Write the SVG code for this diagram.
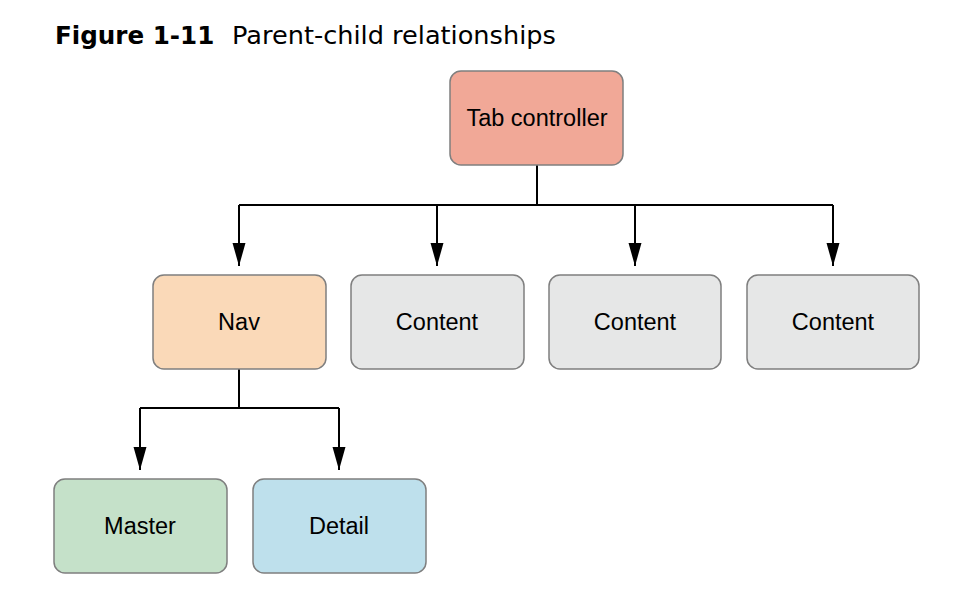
<svg xmlns="http://www.w3.org/2000/svg" width="958" height="610" viewBox="0 0 958 610">
<style>
.box{stroke:#7f7f7f;stroke-width:1.5}
.lbl{font-family:"Liberation Sans",Arial,sans-serif;font-size:23.5px;fill:#000;text-anchor:middle}
.con{fill:none;stroke:#000;stroke-width:2}
.title{font-family:"DejaVu Sans",sans-serif;fill:#000}
</style>
<defs>
<marker id="arr" markerWidth="23" markerHeight="14" refX="23" refY="7" orient="auto" markerUnits="userSpaceOnUse" viewBox="0 0 23 14">
<path d="M0,0.5 L23,7 L0,13.5 Z" fill="#000"/>
</marker>
</defs>
<rect width="958" height="610" fill="#fff"/>
<text class="title" x="55" y="44"><tspan font-weight="bold" font-size="24.6">Figure 1-11</tspan><tspan x="232" font-size="25.6">Parent-child relationships</tspan></text>
<g id="connectors">
<path class="con" d="M537,165 V205"/>
<path class="con" d="M239,205 H833"/>
<path class="con" d="M239,205 V266" marker-end="url(#arr)"/>
<path class="con" d="M437,205 V266" marker-end="url(#arr)"/>
<path class="con" d="M635,205 V266" marker-end="url(#arr)"/>
<path class="con" d="M833,205 V266" marker-end="url(#arr)"/>
<path class="con" d="M239,369 V408"/>
<path class="con" d="M140,408 H339"/>
<path class="con" d="M140,408 V470" marker-end="url(#arr)"/>
<path class="con" d="M339,408 V470" marker-end="url(#arr)"/>
</g>
<g id="tab">
<rect class="box" x="450" y="71" width="173" height="94" rx="11" fill="#F1A897"/>
<text class="lbl" x="537" y="126">Tab controller</text>
</g>
<g id="nav">
<rect class="box" x="153" y="275" width="173" height="94" rx="11" fill="#FAD9B8"/>
<text class="lbl" x="239" y="330">Nav</text>
</g>
<g id="content1">
<rect class="box" x="351" y="275" width="173" height="94" rx="11" fill="#E6E7E7"/>
<text class="lbl" x="437" y="330">Content</text>
</g>
<g id="content2">
<rect class="box" x="549" y="275" width="172" height="94" rx="11" fill="#E6E7E7"/>
<text class="lbl" x="635" y="330">Content</text>
</g>
<g id="content3">
<rect class="box" x="747" y="275" width="172" height="94" rx="11" fill="#E6E7E7"/>
<text class="lbl" x="833" y="330">Content</text>
</g>
<g id="master">
<rect class="box" x="54" y="479" width="173" height="94" rx="11" fill="#C5E1C9"/>
<text class="lbl" x="140" y="534">Master</text>
</g>
<g id="detail">
<rect class="box" x="253" y="479" width="173" height="94" rx="11" fill="#BEE0EC"/>
<text class="lbl" x="339" y="534">Detail</text>
</g>
</svg>
